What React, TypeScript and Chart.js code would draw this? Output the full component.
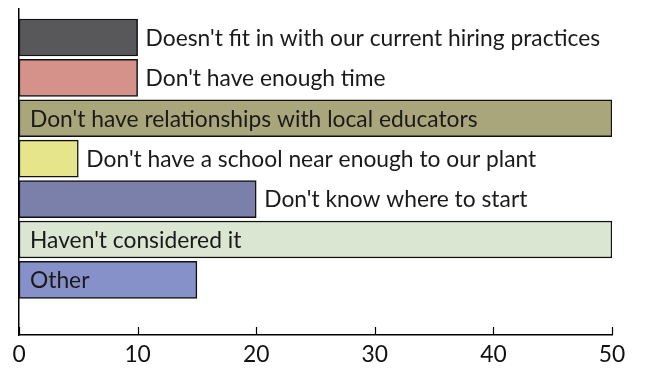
import React, { useEffect, useRef } from "react";
import { Chart, registerables } from "chart.js";

Chart.register(...registerables);

const categories = [
  "Doesn't fit in with our current hiring practices",
  "Don't have enough time",
  "Don't have relationships with local educators",
  "Don't have a school near enough to our plant",
  "Don't know where to start",
  "Haven't considered it",
  "Other",
];
const values = [10, 10, 50, 5, 20, 50, 15];
const barColors = ["#58585b", "#d4928a", "#a9a67c", "#e7e58b", "#7a80a9", "#dbe6d2", "#8791c9"];
const xTicks = [0, 10, 20, 30, 40, 50];

const FONT = "Lato, 'Open Sans', sans-serif";
const FONT_SIZE = 22.8;

const labelPlugin = {
  id: "barLabels",
  afterDatasetsDraw(chart: any) {
    const ctx = chart.ctx;
    const meta = chart.getDatasetMeta(0);
    ctx.save();
    ctx.font = `${FONT_SIZE}px ${FONT}`;
    ctx.fillStyle = "#1a1a1a";
    ctx.textBaseline = "middle";
    const x0 = chart.scales.x.getPixelForValue(0);
    meta.data.forEach((bar: any, i: number) => {
      const text = categories[i];
      const w = ctx.measureText(text).width;
      const barLen = bar.x - x0;
      let tx;
      if (w + 24 < barLen) tx = x0 + 11;
      else tx = bar.x + 8;
      ctx.fillText(text, tx, bar.y + 1);
    });
    // inward tick marks
    const xs = chart.scales.x;
    const bottom = chart.chartArea.bottom;
    ctx.strokeStyle = "#000";
    ctx.lineWidth = 1.2;
    xTicks.forEach((t) => {
      const px = Math.round(xs.getPixelForValue(t)) + 0.5;
      ctx.beginPath();
      ctx.moveTo(px, bottom);
      ctx.lineTo(px, bottom - 8);
      ctx.stroke();
    });
    ctx.restore();
  },
};

export default function App() {
  const ref = useRef<HTMLCanvasElement>(null);
  useEffect(() => {
    document.body.style.margin = "0";
    const chart = new Chart(ref.current!, {
      type: "bar",
      data: {
        datasets: [
          {
            data: values.map((v, i) => ({ x: v, y: i })),
            backgroundColor: barColors,
            borderColor: "#111",
            borderWidth: 1.5,
            borderSkipped: false,
            barThickness: 37,
          },
        ],
      },
      options: {
        indexAxis: "y",
        responsive: false,
        animation: false,
        layout: { padding: { left: 19, right: 36, top: 9, bottom: 0 } },
        plugins: { legend: { display: false }, tooltip: { enabled: false } },
        scales: {
          x: {
            type: "linear",
            min: 0,
            max: 50,
            offset: false,
            afterBuildTicks: (s: any) => {
              s.ticks = xTicks.map((v) => ({ value: v }));
            },
            afterFit: (s: any) => {
              s.height = 42;
            },
            grid: { display: false, drawTicks: false },
            border: { display: true, color: "#000", width: 1.5 },
            ticks: {
              color: "#111",
              padding: 6,
              maxRotation: 0,
              font: { family: FONT, size: FONT_SIZE },
            },
          },
          y: {
            type: "linear",
            reverse: true,
            offset: false,
            min: -0.705,
            max: 7.364,
            afterFit: (s: any) => {
              s.width = 0;
            },
            grid: { display: false, drawTicks: false },
            border: { display: true, color: "#000", width: 1.5 },
            ticks: { display: false },
          },
        },
      },
      plugins: [labelPlugin],
    } as any);
    return () => chart.destroy();
  }, []);
  return (
    <div style={{ position: "absolute", left: 0, top: 0, width: 648, height: 377, background: "#fff" }}>
      <canvas ref={ref} width={648} height={377} />
    </div>
  );
}
